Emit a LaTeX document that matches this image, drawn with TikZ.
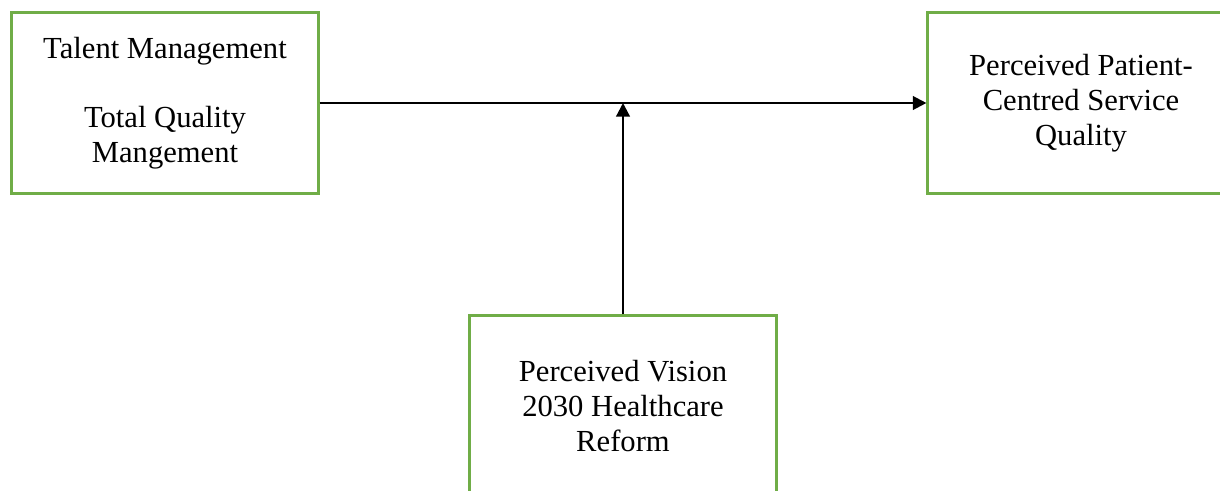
\documentclass[tikz,border=0pt]{standalone}
\usepackage{fontspec}
\setmainfont{Liberation Serif}
\usepackage{tikz}
\usetikzlibrary{positioning,calc,arrows.meta}
\definecolor{boxgreen}{RGB}{112,173,71}

\tikzset{
  constructbox/.style={draw=boxgreen, line width=1.2pt, align=center,
    minimum width=124pt, minimum height=73pt, inner sep=0pt,
    font=\fontsize{12.4}{14.1}\selectfont},
  pathline/.style={line width=0.9pt, -{Triangle[length=5.5pt,width=5.5pt]}}
}

\begin{document}
\begin{tikzpicture}[x=0.405pt, y=-0.405pt]
\useasboundingbox (0,0) rectangle (1220,491);
\clip (0,0) rectangle (1220,491);
% Constructs
\node[constructbox] (tm) at (165,103) {Talent Management\\[14.1pt]Total Quality\\Mangement};
\node[constructbox] (pcsq) at (1081,103) {Perceived Patient-\\Centred Service\\Quality};
\node[constructbox] (vision) at (623,406) {Perceived Vision\\2030 Healthcare\\Reform};
% Paths
\draw[pathline] (tm.east) -- (pcsq.west);
\coordinate (mod) at (vision.north |- tm.east);
\draw[pathline] (vision.north) -- (mod);
\end{tikzpicture}
\end{document}
